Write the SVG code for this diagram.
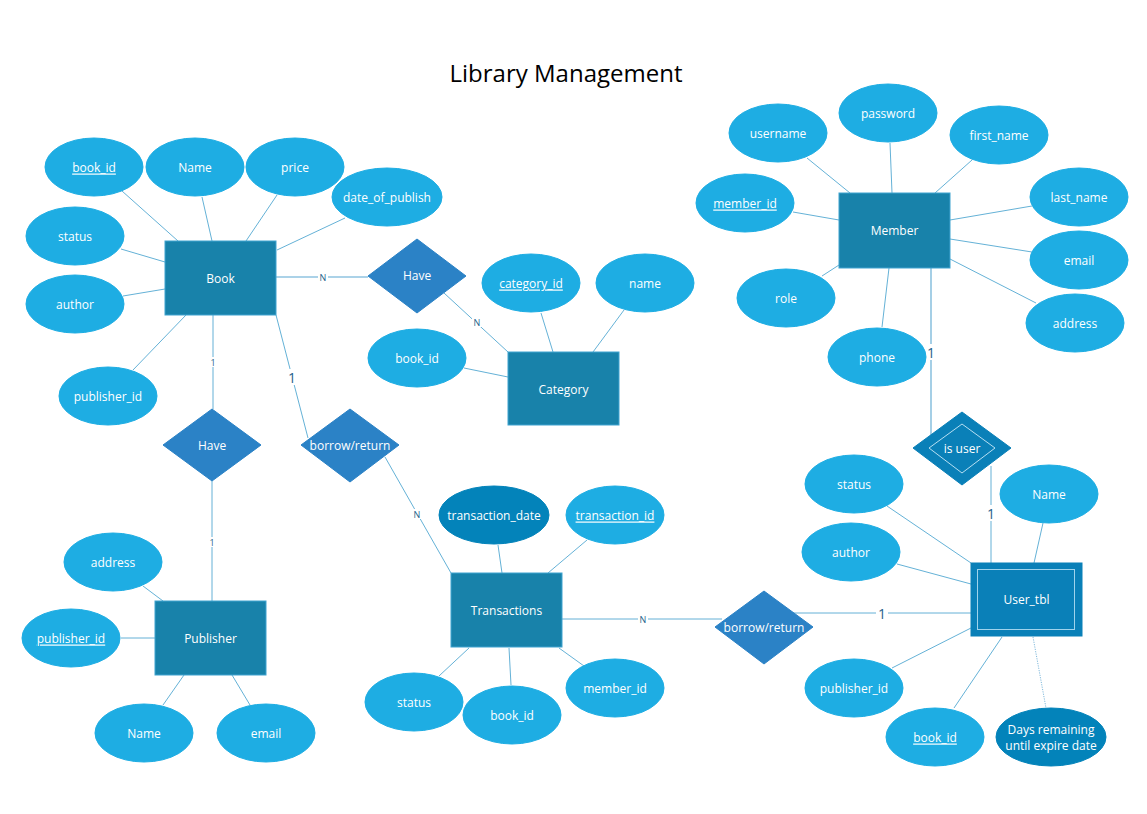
<svg xmlns="http://www.w3.org/2000/svg" width="1147" height="814" viewBox="0 0 1147 814">
<style>
.bg{fill:#ffffff}
.attr{fill:#1eade3;stroke:#1eade3;stroke-width:1}
.dattr{fill:#0383ba;stroke:#0383ba;stroke-width:1}
.ent{fill:#1882aa;stroke:#3fa3d0;stroke-width:1}
.went{fill:#0a80b8;stroke:#0a80b8;stroke-width:1}
.inner{fill:none;stroke:#9fd3ec;stroke-width:1}
.rel{fill:#2b82c6;stroke:#2b82c6;stroke-width:1}
.wrel{fill:#0a80b8;stroke:#0a80b8;stroke-width:1}
.winner{fill:none;stroke:#b7dff2;stroke-width:1}
.t{font-family:"Open Sans","Liberation Sans",sans-serif;font-size:12px;fill:#ffffff;text-anchor:middle;dominant-baseline:central}
.u{text-decoration:underline}
.title{font-family:"Open Sans","Liberation Sans",sans-serif;font-size:24px;fill:#000000;text-anchor:middle}
.ln{stroke:#3c9dcc;stroke-width:0.8;fill:none}
.rl{stroke:#8fc3e0;stroke-width:1.6;fill:none}
.dot{stroke:#7fb9dc;stroke-width:1;stroke-dasharray:1.2 1.2;fill:none}
.cs{font-family:"Open Sans","Liberation Sans",sans-serif;font-size:9px;fill:#1f5f8b;text-anchor:middle;dominant-baseline:central}
.cl{font-family:"Open Sans","Liberation Sans",sans-serif;font-size:14px;fill:#1f5f8b;text-anchor:middle;dominant-baseline:central}
.lbg{fill:#ffffff}
</style>
<rect class="bg" x="0" y="0" width="1147" height="814"/>
<text class="title" x="566" y="82">Library Management</text>

<g id="connectors">
  <!-- Book attributes -->
  <line class="ln" x1="122" y1="191" x2="178" y2="241"/>
  <line class="ln" x1="202" y1="197" x2="212" y2="241"/>
  <line class="ln" x1="277" y1="195" x2="246" y2="241"/>
  <line class="ln" x1="345" y1="218" x2="277" y2="250"/>
  <line class="ln" x1="121" y1="249" x2="165" y2="262"/>
  <line class="ln" x1="123" y1="296" x2="165" y2="289"/>
  <line class="ln" x1="133" y1="370" x2="186" y2="315"/>
  <!-- Book - Have (category) -->
  <line class="rl" x1="276" y1="277" x2="368" y2="277"/>
  <!-- Have - Category -->
  <line class="ln" x1="444" y1="293" x2="508" y2="352"/>
  <!-- Category attributes -->
  <line class="ln" x1="541" y1="313" x2="553" y2="352"/>
  <line class="ln" x1="624" y1="310" x2="593" y2="352"/>
  <line class="ln" x1="464" y1="368" x2="508" y2="377"/>
  <!-- Book - Have (publisher) -->
  <line class="ln" x1="213" y1="315" x2="213" y2="409"/>
  <!-- Have - Publisher -->
  <line class="ln" x1="212" y1="481" x2="212" y2="601"/>
  <!-- Publisher attributes -->
  <line class="ln" x1="143" y1="586" x2="163" y2="601"/>
  <line class="ln" x1="121" y1="638" x2="155" y2="638"/>
  <line class="ln" x1="163" y1="705" x2="184" y2="675"/>
  <line class="ln" x1="250" y1="705" x2="232" y2="675"/>
  <!-- Book - borrow/return -->
  <line class="ln" x1="276" y1="315" x2="308" y2="438"/>
  <!-- borrow/return - Transactions -->
  <line class="ln" x1="385" y1="457" x2="451" y2="573"/>
  <!-- Transactions attributes -->
  <line class="ln" x1="498" y1="545" x2="502" y2="573"/>
  <line class="ln" x1="587" y1="540" x2="548" y2="573"/>
  <line class="ln" x1="439" y1="676" x2="469" y2="648"/>
  <line class="ln" x1="511" y1="685" x2="509" y2="648"/>
  <line class="ln" x1="584" y1="666" x2="559" y2="648"/>
  <!-- Transactions - borrow/return (right) -->
  <line class="ln" x1="562" y1="619" x2="722" y2="619"/>
  <!-- borrow/return - User_tbl -->
  <line class="ln" x1="786" y1="613" x2="971" y2="613"/>
  <!-- Member attributes -->
  <line class="ln" x1="807" y1="158" x2="850" y2="193"/>
  <line class="ln" x1="890" y1="143" x2="892" y2="193"/>
  <line class="ln" x1="972" y1="160" x2="935" y2="193"/>
  <line class="ln" x1="793" y1="212" x2="839" y2="220"/>
  <line class="ln" x1="1032" y1="206" x2="950" y2="220"/>
  <line class="ln" x1="1032" y1="252" x2="950" y2="239"/>
  <line class="ln" x1="822" y1="276" x2="839" y2="265"/>
  <line class="ln" x1="1036" y1="303" x2="950" y2="259"/>
  <line class="ln" x1="882" y1="327" x2="889" y2="268"/>
  <!-- Member - is user -->
  <line class="rl" x1="931" y1="268" x2="931" y2="436"/>
  <!-- is user - User_tbl -->
  <line class="ln" x1="991" y1="466" x2="991" y2="563"/>
  <!-- User_tbl attributes -->
  <line class="ln" x1="887" y1="506" x2="971" y2="563"/>
  <line class="ln" x1="1043" y1="523" x2="1034" y2="563"/>
  <line class="ln" x1="897" y1="564" x2="971" y2="584"/>
  <line class="ln" x1="892" y1="668" x2="971" y2="628"/>
  <line class="ln" x1="954" y1="708" x2="1002" y2="637"/>
  <line class="dot" x1="1033" y1="637" x2="1046" y2="708"/>

  <!-- cardinality labels -->
  <rect class="lbg" x="318" y="272" width="10" height="10"/>
  <text class="cs" x="323" y="277">N</text>
  <rect class="lbg" x="472" y="317" width="10" height="10"/>
  <text class="cs" x="477" y="322">N</text>
  <rect class="lbg" x="208" y="357" width="10" height="10"/>
  <text class="cs" x="213" y="362">1</text>
  <rect class="lbg" x="207" y="537" width="10" height="10"/>
  <text class="cs" x="212" y="542">1</text>
  <rect class="lbg" x="286" y="369" width="12" height="16"/>
  <text class="cl" x="292" y="377">1</text>
  <rect class="lbg" x="412" y="509" width="10" height="10"/>
  <text class="cs" x="417" y="514">N</text>
  <rect class="lbg" x="638" y="614" width="10" height="10"/>
  <text class="cs" x="643" y="619">N</text>
  <rect class="lbg" x="876" y="605" width="12" height="16"/>
  <text class="cl" x="882" y="613">1</text>
  <rect class="lbg" x="925" y="344" width="12" height="16"/>
  <text class="cl" x="931" y="352">1</text>
  <rect class="lbg" x="985" y="505" width="12" height="16"/>
  <text class="cl" x="991" y="513">1</text>
</g>

<!-- Book -->
<g id="book">
  <rect class="ent" x="165" y="241" width="111" height="74"/>
  <text class="t" x="220.5" y="278">Book</text>
</g>
<g id="book_book_id"><ellipse class="attr" cx="94" cy="167" rx="49" ry="29"/><text class="t u" x="94" y="167">book_id</text></g>
<g id="book_name"><ellipse class="attr" cx="195" cy="167" rx="49" ry="29"/><text class="t" x="195" y="167">Name</text></g>
<g id="book_price"><ellipse class="attr" cx="295" cy="167" rx="49" ry="29"/><text class="t" x="295" y="167">price</text></g>
<g id="book_date_of_publish"><ellipse class="attr" cx="387" cy="197" rx="55" ry="29"/><text class="t" x="387" y="197">date_of_publish</text></g>
<g id="book_status"><ellipse class="attr" cx="75" cy="236" rx="49" ry="29"/><text class="t" x="75" y="236">status</text></g>
<g id="book_author"><ellipse class="attr" cx="75" cy="304" rx="49" ry="29"/><text class="t" x="75" y="304">author</text></g>
<g id="book_publisher_id"><ellipse class="attr" cx="108" cy="396" rx="49" ry="29"/><text class="t" x="108" y="396">publisher_id</text></g>

<!-- Have (Book-Category) -->
<g id="have_category">
  <polygon class="rel" points="417,239 466,276 417,313 368,276"/>
  <text class="t" x="417" y="275">Have</text>
</g>

<!-- Category -->
<g id="category">
  <rect class="ent" x="508" y="352" width="111" height="73"/>
  <text class="t" x="563.5" y="389">Category</text>
</g>
<g id="category_category_id"><ellipse class="attr" cx="531" cy="283" rx="49" ry="29"/><text class="t u" x="531" y="283">category_id</text></g>
<g id="category_name"><ellipse class="attr" cx="645" cy="283" rx="49" ry="29"/><text class="t" x="645" y="283">name</text></g>
<g id="category_book_id"><ellipse class="attr" cx="417" cy="358" rx="49" ry="29"/><text class="t" x="417" y="358">book_id</text></g>

<!-- Have (Book-Publisher) -->
<g id="have_publisher">
  <polygon class="rel" points="212,409 261,445 212,481 163,445"/>
  <text class="t" x="212" y="445">Have</text>
</g>

<!-- Publisher -->
<g id="publisher">
  <rect class="ent" x="155" y="601" width="111" height="74"/>
  <text class="t" x="210.5" y="638">Publisher</text>
</g>
<g id="publisher_address"><ellipse class="attr" cx="113" cy="562" rx="49" ry="29"/><text class="t" x="113" y="562">address</text></g>
<g id="publisher_publisher_id"><ellipse class="attr" cx="71" cy="638" rx="49" ry="29"/><text class="t u" x="71" y="638">publisher_id</text></g>
<g id="publisher_name"><ellipse class="attr" cx="144" cy="733" rx="49" ry="29"/><text class="t" x="144" y="733">Name</text></g>
<g id="publisher_email"><ellipse class="attr" cx="266" cy="733" rx="49" ry="29"/><text class="t" x="266" y="733">email</text></g>

<!-- borrow/return (Book-Transactions) -->
<g id="borrow_return_book">
  <polygon class="rel" points="350,409 399,445 350,482 301,445"/>
  <text class="t" x="350" y="445">borrow/return</text>
</g>

<!-- Transactions -->
<g id="transactions">
  <rect class="ent" x="451" y="573" width="111" height="74"/>
  <text class="t" x="506.5" y="610">Transactions</text>
</g>
<g id="transactions_transaction_date"><ellipse class="dattr" cx="494" cy="515" rx="55" ry="29"/><text class="t" x="494" y="515">transaction_date</text></g>
<g id="transactions_transaction_id"><ellipse class="attr" cx="615" cy="515" rx="49" ry="29"/><text class="t u" x="615" y="515">transaction_id</text></g>
<g id="transactions_status"><ellipse class="attr" cx="414" cy="702" rx="49" ry="29"/><text class="t" x="414" y="702">status</text></g>
<g id="transactions_book_id"><ellipse class="attr" cx="512" cy="715" rx="49" ry="29"/><text class="t" x="512" y="715">book_id</text></g>
<g id="transactions_member_id"><ellipse class="attr" cx="615" cy="688" rx="49" ry="29"/><text class="t" x="615" y="688">member_id</text></g>

<!-- borrow/return (Transactions-User_tbl) -->
<g id="borrow_return_user">
  <polygon class="rel" points="764,591 813,627 764,664 715,627"/>
  <text class="t" x="764" y="627">borrow/return</text>
</g>

<!-- Member -->
<g id="member">
  <rect class="ent" x="839" y="193" width="111" height="75"/>
  <text class="t" x="894.5" y="230">Member</text>
</g>
<g id="member_username"><ellipse class="attr" cx="778" cy="133" rx="49" ry="29"/><text class="t" x="778" y="133">username</text></g>
<g id="member_password"><ellipse class="attr" cx="888" cy="113" rx="49" ry="29"/><text class="t" x="888" y="113">password</text></g>
<g id="member_first_name"><ellipse class="attr" cx="999" cy="135" rx="49" ry="29"/><text class="t" x="999" y="135">first_name</text></g>
<g id="member_member_id"><ellipse class="attr" cx="745" cy="203" rx="49" ry="29"/><text class="t u" x="745" y="203">member_id</text></g>
<g id="member_last_name"><ellipse class="attr" cx="1079" cy="197" rx="49" ry="29"/><text class="t" x="1079" y="197">last_name</text></g>
<g id="member_email"><ellipse class="attr" cx="1079" cy="260" rx="49" ry="29"/><text class="t" x="1079" y="260">email</text></g>
<g id="member_role"><ellipse class="attr" cx="786" cy="298" rx="49" ry="29"/><text class="t" x="786" y="298">role</text></g>
<g id="member_address"><ellipse class="attr" cx="1075" cy="323" rx="49" ry="29"/><text class="t" x="1075" y="323">address</text></g>
<g id="member_phone"><ellipse class="attr" cx="877" cy="357" rx="49" ry="29"/><text class="t" x="877" y="357">phone</text></g>

<!-- is user -->
<g id="is_user">
  <polygon class="wrel" points="962,412 1011,448 962,485 913,448"/>
  <polygon class="winner" points="962,424 995,448 962,473 929,448"/>
  <text class="t" x="962" y="448">is user</text>
</g>

<!-- User_tbl -->
<g id="user_tbl">
  <rect class="went" x="971" y="563" width="111" height="73"/>
  <rect class="inner" x="977.5" y="569.5" width="97" height="60"/>
  <text class="t" x="1026.5" y="599">User_tbl</text>
</g>
<g id="user_status"><ellipse class="attr" cx="854" cy="484" rx="49" ry="29"/><text class="t" x="854" y="484">status</text></g>
<g id="user_name"><ellipse class="attr" cx="1049" cy="494" rx="49" ry="29"/><text class="t" x="1049" y="494">Name</text></g>
<g id="user_author"><ellipse class="attr" cx="851" cy="552" rx="49" ry="29"/><text class="t" x="851" y="552">author</text></g>
<g id="user_publisher_id"><ellipse class="attr" cx="854" cy="688" rx="49" ry="29"/><text class="t" x="854" y="688">publisher_id</text></g>
<g id="user_book_id"><ellipse class="attr" cx="935" cy="737" rx="49" ry="29"/><text class="t u" x="935" y="737">book_id</text></g>
<g id="user_days_remaining">
  <ellipse class="dattr" cx="1051" cy="737" rx="55" ry="29"/>
  <text class="t" x="1051" y="729">Days remaining</text>
  <text class="t" x="1051" y="745">until expire date</text>
</g>
</svg>
